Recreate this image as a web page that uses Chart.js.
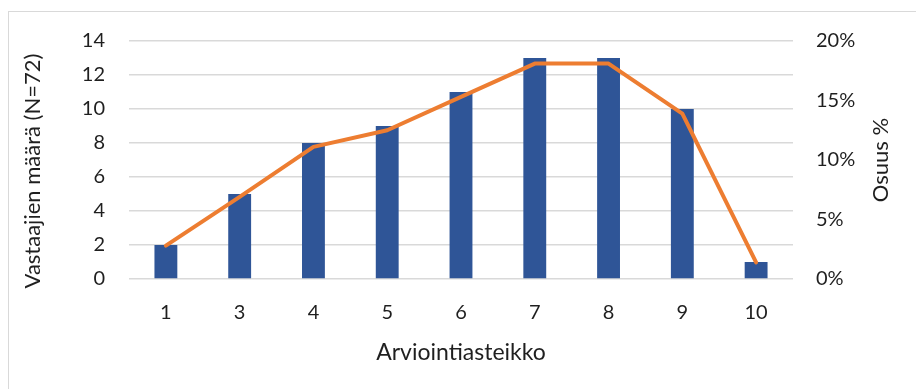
<!DOCTYPE html>
<html>
<head>
<meta charset="utf-8">
<script src="https://cdn.jsdelivr.net/npm/chart.js@4.4.1/dist/chart.umd.min.js"></script>
<style>
  html, body { margin: 0; padding: 0; background: #fff; }
  #wrap { width: 916px; height: 389px; position: relative; }
</style>
</head>
<body>
<div id="wrap"><canvas id="chart" width="916" height="389"></canvas></div>
<script>
// Data
const categories = ['1', '3', '4', '5', '6', '7', '8', '9', '10'];
const counts = [2, 5, 8, 9, 11, 13, 13, 10, 1];
const shares = [2.8, 6.9, 11.1, 12.5, 15.3, 18.1, 18.1, 13.9, 1.4]; // %
const leftTicks = [0, 2, 4, 6, 8, 10, 12, 14];
const rightTicks = [0, 5, 10, 15, 20];

const FONT = 'Lato, "Open Sans", sans-serif';
const TEXT = '#1f1f1f';

function vText(ctx, text, x, y) {
    ctx.save();
    ctx.translate(x, y);
    ctx.rotate(-Math.PI / 2);
    ctx.font = '22px ' + FONT;
    ctx.fillStyle = TEXT;
    ctx.textAlign = 'center';
    ctx.textBaseline = 'middle';
    ctx.fillText(text, 0, 0);
    ctx.restore();
}

// frame around the chart + axis titles reading upwards
const extras = {
    id: 'extras',
    beforeDraw(chart) {
        const ctx = chart.ctx;
        ctx.save();
        ctx.fillStyle = '#fff';
        ctx.fillRect(0, 0, chart.width, chart.height);
        ctx.strokeStyle = '#d9d9d9';
        ctx.lineWidth = 1;
        ctx.strokeRect(8.5, 11.5, 920, 400);
        ctx.restore();
    },
    afterDraw(chart) {
        const area = chart.chartArea;
        vText(chart.ctx, 'Vastaajien määrä (N=72)', 33, 171);
        vText(chart.ctx, 'Osuus %', 881, (area.top + area.bottom) / 2);
    }
};

const ctx = document.getElementById('chart').getContext('2d');
new Chart(ctx, {
    type: 'bar',
    data: {
        labels: categories,
        datasets: [
            {
                type: 'line',
                label: 'Osuus %',
                data: shares,
                yAxisID: 'y1',
                borderColor: '#ED7D31',
                borderWidth: 4,
                borderCapStyle: 'round',
                borderJoinStyle: 'round',
                pointRadius: 0,
                tension: 0,
                order: 0
            },
            {
                type: 'bar',
                label: 'Vastaajien määrä',
                data: counts,
                yAxisID: 'y',
                backgroundColor: '#2F5597',
                categoryPercentage: 1,
                barPercentage: 0.31,
                order: 1
            }
        ]
    },
    options: {
        responsive: false,
        animation: false,
        layout: { padding: { left: 8, right: 0, top: 41, bottom: 0 } },
        plugins: {
            legend: { display: false },
            tooltip: { enabled: false }
        },
        scales: {
            x: {
                afterFit: (axis) => { axis.height = 110; },
                grid: { display: false, drawTicks: false },
                border: { display: false },
                ticks: { color: TEXT, font: { family: FONT, size: 20 }, padding: 22 },
                title: {
                    display: true,
                    text: 'Arviointiasteikko',
                    color: TEXT,
                    font: { family: FONT, size: 23 },
                    padding: { top: 0, bottom: 23 }
                }
            },
            y: {
                position: 'left',
                min: 0,
                max: 14,
                afterBuildTicks: (axis) => { axis.ticks = leftTicks.map(v => ({ value: v })); },
                afterFit: (axis) => { axis.width = 121; },
                grid: { color: '#d9d9d9', lineWidth: 1.5, drawTicks: false },
                border: { display: false },
                ticks: { color: TEXT, font: { family: FONT, size: 20 }, padding: 24 }
            },
            y1: {
                position: 'right',
                min: 0,
                max: 20,
                afterBuildTicks: (axis) => { axis.ticks = rightTicks.map(v => ({ value: v })); },
                afterFit: (axis) => { axis.width = 916 - 793; },
                grid: { display: false, drawTicks: false },
                border: { display: false },
                ticks: {
                    color: TEXT,
                    font: { family: FONT, size: 20 },
                    padding: 23,
                    callback: (v) => v + '%'
                }
            }
        }
    },
    plugins: [extras]
});
</script>
</body>
</html>
